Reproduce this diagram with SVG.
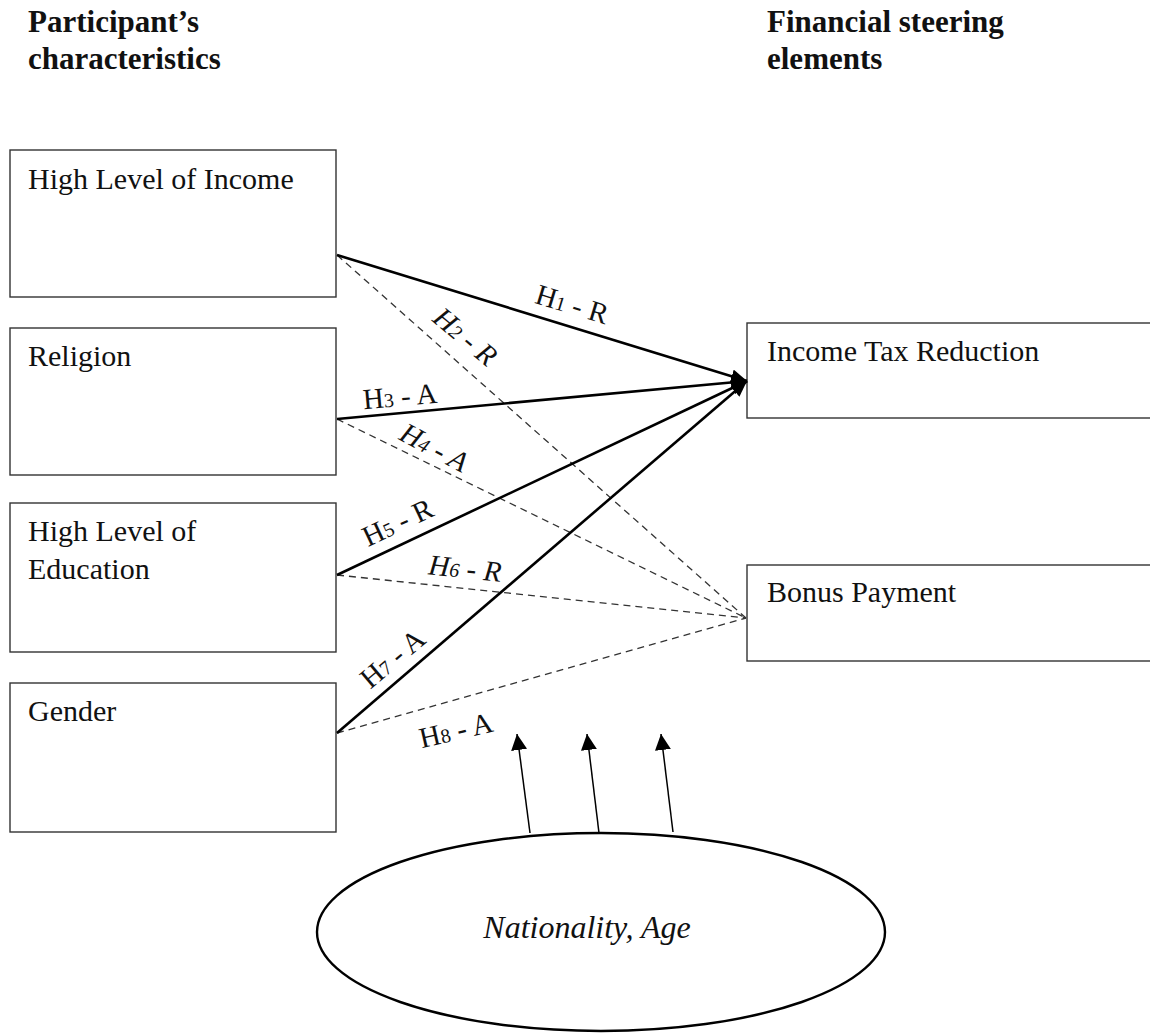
<svg xmlns="http://www.w3.org/2000/svg" width="1150" height="1036" viewBox="0 0 1150 1036">
<style>
.box{fill:#fff;stroke:#333;stroke-width:1.4}
.t{font-family:"Liberation Serif","Times New Roman",serif;font-size:30px;fill:#111}
.h{font-family:"Liberation Serif","Times New Roman",serif;font-size:31px;font-weight:bold;fill:#111}
.lab{font-family:"Liberation Serif","Times New Roman",serif;font-size:29px;fill:#111;text-anchor:middle}
.it{font-style:italic}
.sub{font-size:20px}
.solid{stroke:#000;stroke-width:2.6;fill:none}
.dash{stroke:#333;stroke-width:1.3;stroke-dasharray:7,5;fill:none}
.thin{stroke:#000;stroke-width:1.5;fill:none}
</style>
<defs>
<marker id="big" markerUnits="userSpaceOnUse" markerWidth="18" markerHeight="14" refX="16" refY="7" orient="auto">
<path d="M0,0 L16,7 L0,14 z" fill="#000"/>
</marker>
<marker id="small" markerUnits="userSpaceOnUse" markerWidth="17" markerHeight="16" refX="16" refY="8" orient="auto">
<path d="M0,0 L16,8 L0,16 z" fill="#000"/>
</marker>
</defs>
<rect width="1150" height="1036" fill="#fff"/>
<g id="headers">
<text class="h" x="28" y="32">Participant’s</text>
<text class="h" x="28" y="69">characteristics</text>
<text class="h" x="767" y="32">Financial steering</text>
<text class="h" x="767" y="69">elements</text>
</g>
<g id="income">
<rect class="box" x="10" y="150" width="326" height="147"/>
<text class="t" x="28" y="189">High Level of Income</text>
</g>
<g id="religion">
<rect class="box" x="10" y="328" width="326" height="147"/>
<text class="t" x="28" y="366">Religion</text>
</g>
<g id="education">
<rect class="box" x="10" y="503" width="326" height="149"/>
<text class="t" x="28" y="541">High Level of</text>
<text class="t" x="28" y="579">Education</text>
</g>
<g id="gender">
<rect class="box" x="10" y="683" width="326" height="149"/>
<text class="t" x="28" y="721">Gender</text>
</g>
<g id="taxreduction">
<rect class="box" x="747" y="323" width="410" height="95"/>
<text class="t" x="767" y="361">Income Tax Reduction</text>
</g>
<g id="bonus">
<rect class="box" x="747" y="565" width="410" height="96"/>
<text class="t" x="767" y="602">Bonus Payment</text>
</g>
<g id="moderator">
<ellipse cx="601" cy="932" rx="284" ry="99" fill="#fff" stroke="#000" stroke-width="2.4"/>
<text class="t it" x="587" y="938" text-anchor="middle" style="font-size:32px">Nationality, Age</text>
</g>
<g id="connectors">
<line class="dash" x1="337" y1="255" x2="746" y2="618"/>
<line class="dash" x1="337" y1="419" x2="746" y2="618"/>
<line class="dash" x1="337" y1="575" x2="746" y2="618"/>
<line class="dash" x1="337" y1="733" x2="746" y2="618"/>
<line class="solid" x1="337" y1="255" x2="747" y2="381" marker-end="url(#big)"/>
<line class="solid" x1="337" y1="419" x2="747" y2="381" marker-end="url(#big)"/>
<line class="solid" x1="337" y1="575" x2="747" y2="381" marker-end="url(#big)"/>
<line class="solid" x1="337" y1="733" x2="747" y2="381" marker-end="url(#big)"/>
<line class="thin" x1="530" y1="833" x2="517" y2="734" marker-end="url(#small)"/>
<line class="thin" x1="599" y1="833" x2="587" y2="734" marker-end="url(#small)"/>
<line class="thin" x1="673" y1="832" x2="661" y2="734" marker-end="url(#small)"/>
</g>
<g id="labels">
<text class="lab" transform="translate(572,305) rotate(17)" y="9">H<tspan class="sub">1</tspan> - R</text>
<text class="lab it" transform="translate(465,337) rotate(40)" y="9">H<tspan class="sub">2</tspan> - R</text>
<text class="lab" transform="translate(400,397) rotate(-5)" y="9">H<tspan class="sub">3</tspan> - A</text>
<text class="lab it" transform="translate(434,448) rotate(28)" y="9">H<tspan class="sub">4</tspan> - A</text>
<text class="lab" transform="translate(398,523) rotate(-25)" y="9">H<tspan class="sub">5</tspan> - R</text>
<text class="lab it" transform="translate(465,569) rotate(6)" y="9">H<tspan class="sub">6</tspan> - R</text>
<text class="lab" transform="translate(393,659) rotate(-40)" y="9">H<tspan class="sub">7</tspan> - A</text>
<text class="lab" transform="translate(456,731) rotate(-13)" y="9">H<tspan class="sub">8</tspan> - A</text>
</g>
</svg>
